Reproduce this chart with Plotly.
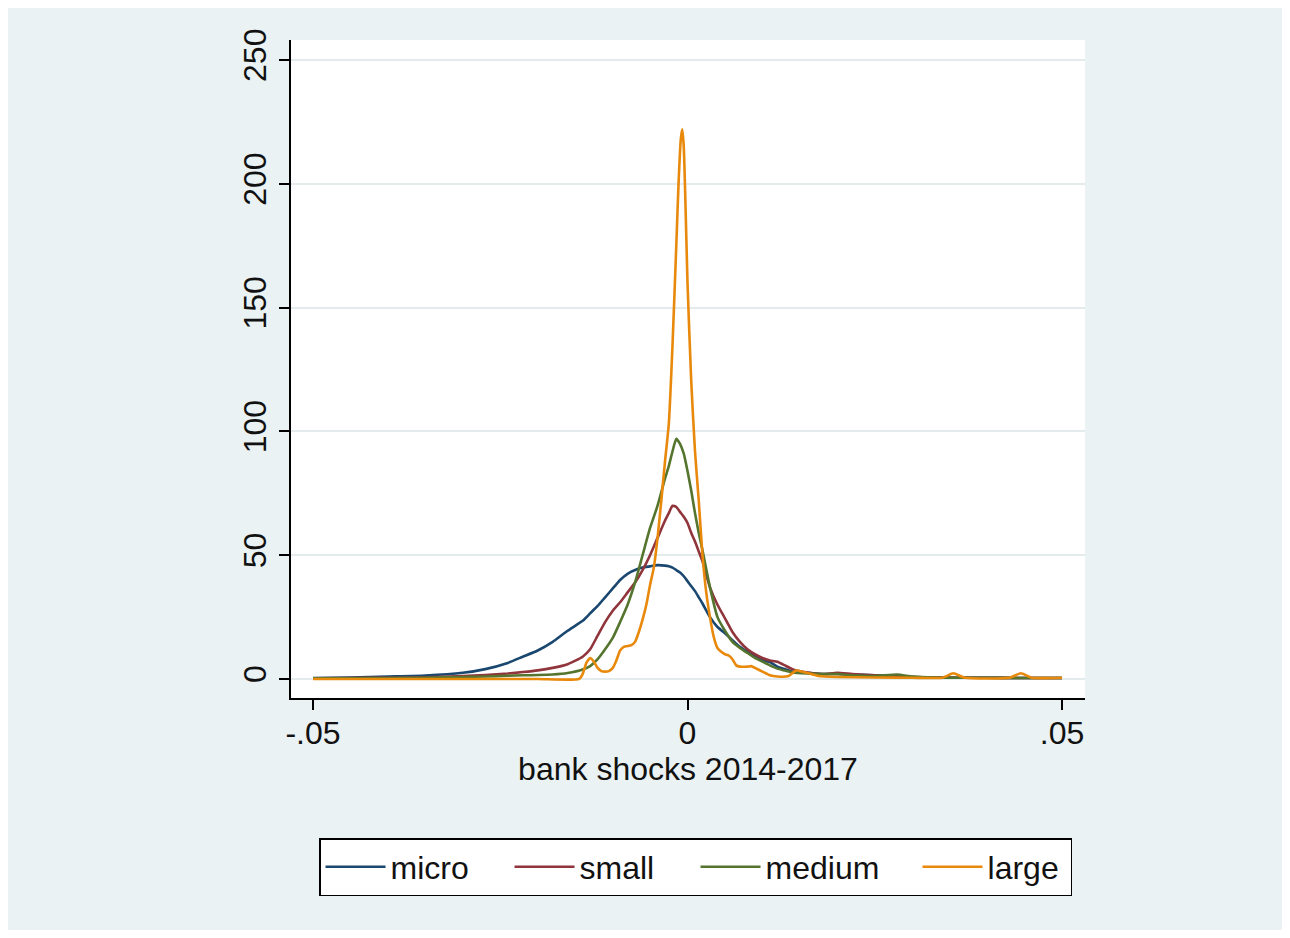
import plotly.graph_objects as go

# ---- data ----
x_grid = [-0.050, -0.045, -0.040, -0.035, -0.030, -0.027, -0.024, -0.022, -0.020, -0.018,
          -0.016, -0.014, -0.013, -0.012, -0.011, -0.010, -0.009, -0.008, -0.007, -0.006,
          -0.005, -0.004, -0.003, -0.0025, -0.002, -0.0015, -0.001, -0.0005, 0.000, 0.0005,
          0.001, 0.0015, 0.002, 0.003, 0.004, 0.005, 0.006, 0.007, 0.008, 0.009,
          0.010, 0.011, 0.012, 0.013, 0.014, 0.016, 0.018, 0.020, 0.022, 0.025,
          0.028, 0.030, 0.033, 0.036, 0.040, 0.044, 0.048, 0.050]

micro = [0.4, 0.6, 1.0, 1.4, 2.5, 4.0, 6.5, 9.0, 11.5, 15.0,
         19.5, 23.5, 26.5, 29.5, 33.0, 36.5, 40.0, 42.5, 44.0, 45.0,
         45.5, 46.0, 45.8, 45.5, 45.0, 44.0, 43.0, 41.5, 39.5, 37.5,
         35.5, 33.0, 30.5, 25.0, 21.0, 18.5, 15.7, 13.0, 11.0, 9.5,
         7.8, 6.8, 5.0, 4.0, 3.0, 2.5, 2.0, 2.0, 1.8, 1.5,
         1.0, 0.8, 0.6, 0.5, 0.5, 0.4, 0.4, 0.4]

small = [0.3, 0.4, 0.5, 0.7, 1.2, 1.6, 2.2, 2.8, 3.5, 4.5,
         6.0, 9.0, 12.0, 17.5, 23.0, 27.5, 31.0, 35.0, 39.0, 44.0,
         50.0, 57.0, 64.0, 67.0, 70.0, 69.5, 67.5, 65.5, 63.0, 59.0,
         55.5, 51.5, 47.5, 37.0, 30.0, 24.5, 19.0, 15.0, 12.0, 10.0,
         8.5, 7.5, 7.0, 5.5, 4.0, 2.6, 2.0, 2.5, 2.0, 1.5,
         1.0, 0.8, 0.6, 0.5, 0.5, 0.4, 0.4, 0.4]

medium = [0.3, 0.3, 0.4, 0.5, 0.8, 1.0, 1.3, 1.5, 1.6, 1.8,
          2.4, 3.8, 5.2, 8.0, 12.0, 16.5, 23.0, 30.0, 39.0, 50.0,
          61.0, 70.0, 81.0, 86.0, 92.0, 97.0, 95.0, 91.0, 84.0, 76.0,
          67.0, 59.0, 52.0, 37.0, 25.0, 19.5, 15.0, 12.5, 10.5, 8.5,
          7.0, 5.5, 4.2, 3.4, 2.6, 2.2, 2.0, 2.0, 1.5, 1.2,
          1.8, 1.0, 0.6, 0.5, 0.5, 0.4, 0.4, 0.4]

x_large = [-0.050, -0.040, -0.030, -0.020, -0.0145, -0.0140, -0.0135, -0.0130, -0.0125, -0.0120,
           -0.0115, -0.0110, -0.0105, -0.0100, -0.0095, -0.0090, -0.0085, -0.0080, -0.0075, -0.0070,
           -0.0065, -0.0060, -0.0055, -0.0050, -0.0045, -0.0040, -0.0035, -0.0030, -0.0025, -0.0020,
           -0.0015, -0.0012, -0.0009, -0.0007, -0.0005, -0.0003, 0.0000, 0.0005, 0.0010, 0.0015,
           0.0020, 0.0025, 0.0030, 0.0035, 0.0040, 0.0045, 0.0050, 0.0055, 0.0060, 0.0065,
           0.0070, 0.0080, 0.0085, 0.0090, 0.0100, 0.0110, 0.0120, 0.0135, 0.0145, 0.0155,
           0.0165, 0.0175, 0.020, 0.025, 0.030, 0.034, 0.0355, 0.037, 0.043, 0.0445,
           0.046, 0.050]

large = [0.0, 0.0, 0.0, 0.0, 0.0, 2.0, 6.5, 8.5, 7.0, 4.5,
         3.2, 3.0, 3.2, 4.4, 7.5, 11.5, 13.0, 13.3, 13.7, 15.0,
         19.0, 24.0, 30.0, 38.0, 45.0, 57.0, 72.0, 88.0, 103.0, 135.0,
         175.0, 200.0, 218.0, 222.0, 215.0, 195.0, 160.0, 120.0, 92.0, 72.0,
         50.0, 35.0, 25.0, 17.0, 12.5, 11.0, 10.0, 9.5, 8.0, 5.5,
         5.0, 5.0, 5.2, 4.5, 3.0, 1.5, 1.0, 1.2, 3.4, 2.8,
         2.0, 1.2, 0.8, 0.6, 0.5, 0.5, 2.3, 0.5, 0.5, 2.3,
         0.5, 0.5]

series_names = ["micro", "small", "medium", "large"]
series_colors = ["#1a476f", "#90353b", "#55752f", "#e8890c"]
series_x = [x_grid, x_grid, x_grid, x_large]
series_y = [micro, small, medium, large]
legend_widths = [114, 111, 147, 78]

x_tickvals = [-0.05, 0, 0.05]
x_ticktext = ["-.05", "0", ".05"]
y_tickvals = [0, 50, 100, 150, 200, 250]
y_ticktext = ["0", "50", "100", "150", "200", "250"]

FONT = "Liberation Sans, Arial, Helvetica, sans-serif"
FS = 32

fig = go.Figure()
for name, xs, ys, col, lw in zip(series_names, series_x, series_y, series_colors, legend_widths):
    fig.add_trace(go.Scatter(x=xs, y=ys, name=name, mode="lines", legendwidth=lw,
                             line=dict(color=col, width=2.6, shape="spline", smoothing=0.5)))

fig.update_layout(
    width=1274, height=922,
    paper_bgcolor="#eaf2f3", plot_bgcolor="#ffffff",
    margin=dict(l=283, r=197, t=32, b=232, autoexpand=False),
    font=dict(family=FONT, size=FS, color="#111111"),
    showlegend=True,
    legend=dict(orientation="h", x=0.0353, y=-0.2128, xanchor="left", yanchor="top",
                bgcolor="#ffffff", bordercolor="#000000", borderwidth=1.5,
                font=dict(size=FS), itemwidth=60, tracegroupgap=0),
)
fig.update_xaxes(range=[-0.05294, 0.05307], tickvals=x_tickvals, ticktext=x_ticktext,
                 showgrid=False, zeroline=False, showline=True, linecolor="#000000",
                 linewidth=1.5, ticks="outside", ticklen=10, tickwidth=1.5,
                 tickcolor="#000000", tickfont=dict(size=FS), ticklabelstandoff=-4,
                 title=dict(text="bank shocks 2014-2017", font=dict(size=FS), standoff=6))
fig.update_yaxes(range=[-7.67, 258.1], tickvals=y_tickvals, ticktext=y_ticktext,
                 showgrid=True, gridcolor="#e4ebed", gridwidth=1.5, zeroline=False,
                 showline=True, linecolor="#000000", linewidth=1.5, ticks="outside",
                 ticklen=10, tickwidth=1.5, tickcolor="#000000", tickangle=-90,
                 tickfont=dict(size=FS))

fig.write_html("out.html")
